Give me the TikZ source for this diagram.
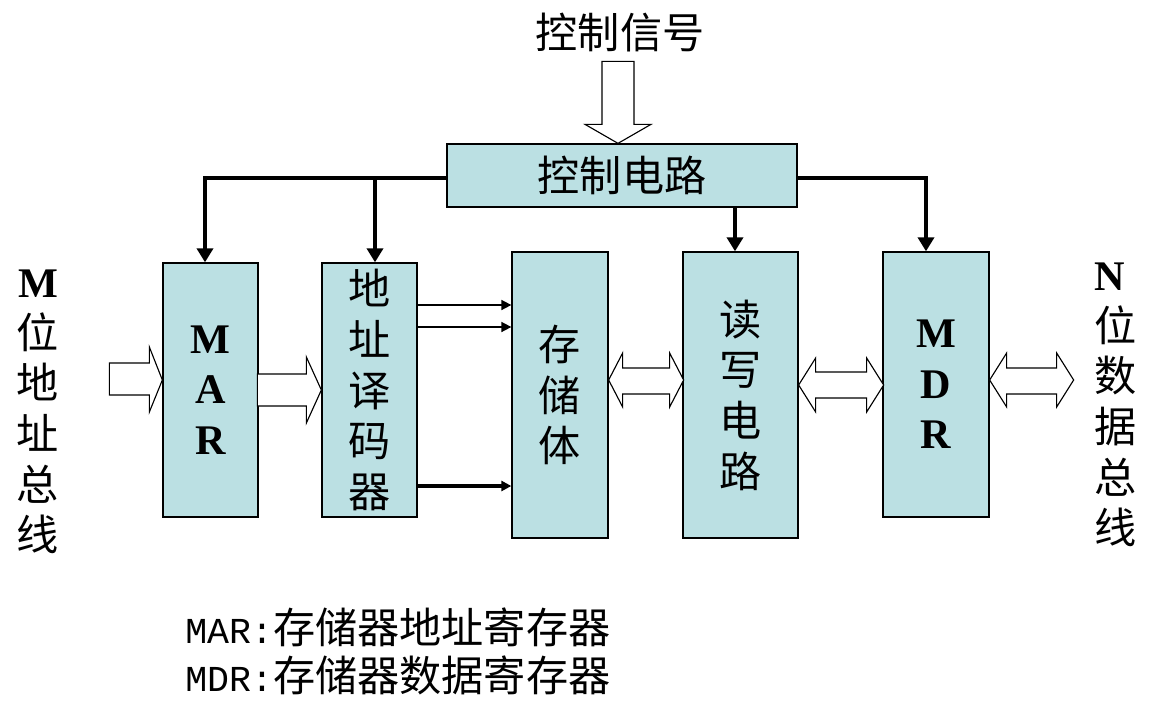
\documentclass[tikz,border=0pt]{standalone}
\usepackage{fontspec}
\setmainfont{Liberation Serif}
\newfontfamily\cjk{Noto Sans CJK SC}
\newfontfamily\legendmono{Liberation Mono}
\usetikzlibrary{calc,arrows.meta}
\definecolor{boxcyan}{RGB}{187,224,227}
\newcommand{\ltr}[1]{{\rmfamily\bfseries\fontsize{30}{36}\selectfont #1}}

\begin{document}
\begin{tikzpicture}[x=0.025cm, y=-0.025cm,
  box/.style={draw, line width=0.9pt, fill=boxcyan, inner sep=0pt, align=center, font=\cjk\fontsize{30}{36}\selectfont},
  lbl/.style={inner sep=0pt, align=center, font=\cjk\fontsize{30}{36}\selectfont},
  hollow/.style={draw, line width=0.8pt, fill=white},
  ctl/.style={line width=3pt, -{Triangle[length=0.35cm,width=0.4cm]}},
  sarr/.style={-{Triangle[length=0.25cm,width=0.25cm]}}
]
  \useasboundingbox (0,0) rectangle (1172,711);

  % Blocks
  \node[box, minimum width=8.75cm, minimum height=1.575cm] (ctrl) at (622,175.5) {控制电路};
  \node[box, minimum width=2.375cm, minimum height=6.35cm] (mar) at (210.5,390) {\ltr{M}\\\ltr{A}\\\ltr{R}};
  \node[box, minimum width=2.375cm, minimum height=6.35cm] (dec) at (369.5,390) {地\\址\\译\\码\\器};
  \node[box, minimum width=2.4cm, minimum height=7.15cm] (mem) at (560,395) {存\\储\\体};
  \node[box, minimum width=2.875cm, minimum height=7.15cm] (rw) at (740.5,395) {读\\写\\电\\路};
  \node[box, minimum width=2.65cm, minimum height=6.625cm] (mdr) at (936,384.5) {\ltr{M}\\\ltr{D}\\\ltr{R}};

  % Labels
  \node[lbl] (signal) at (620,33) {控制信号};
  \node[lbl] (addrbus) at (38,412) {\ltr{M}\\位\\地\\址\\总\\线};
  \node[lbl, align=left] (databus) at (1116,405) {\ltr{N}\\位\\数\\据\\总\\线};
  \node[lbl, anchor=west, align=left, font=\cjk\fontsize{30}{34}\selectfont] (legend) at (185,651)
    {{\legendmono\fontsize{26}{34}\selectfont MAR:}存储器地址寄存器\\{\legendmono\fontsize{26}{34}\selectfont MDR:}存储器数据寄存器};

  % Hollow bus arrows
  \draw[hollow] ($(ctrl.north)+(-4,0)$) -- ++(-33,-19) -- ++(17,0) -- ++(0,-63) -- ++(32,0) -- ++(0,63) -- ++(17,0) -- cycle;
  \draw[hollow] ($(mar.west)+(0,-10)$) -- ++(-13,-33) -- ++(0,16) -- ++(-40,0) -- ++(0,32) -- ++(40,0) -- ++(0,17) -- cycle;
  \draw[hollow] (dec.west) -- ++(-15,-33) -- ++(0,17) -- ++(-49,0) -- ++(0,32) -- ++(49,0) -- ++(0,17) -- cycle;
  \draw[hollow] ($(mem.east)+(0,-15)$) -- ++(14,-27) -- ++(0,15) -- ++(47,0) -- ++(0,-15) -- ++(14,27)
    -- ++(-14,27) -- ++(0,-13) -- ++(-47,0) -- ++(0,13) -- cycle;
  \draw[hollow] ($(rw.east)+(0,-10)$) -- ++(17,-27) -- ++(0,14) -- ++(51,0) -- ++(0,-14) -- ++(17,27)
    -- ++(-17,27) -- ++(0,-14) -- ++(-51,0) -- ++(0,14) -- cycle;
  \draw[hollow] ($(mdr.east)+(0,-4.5)$) -- ++(17,-27) -- ++(0,15) -- ++(50,0) -- ++(0,-15) -- ++(17,27)
    -- ++(-17,27) -- ++(0,-13) -- ++(-50,0) -- ++(0,13) -- cycle;

  % Control lines
  \coordinate (cl) at ($(ctrl.west)+(0,2.5)$);
  \coordinate (cr) at ($(ctrl.east)+(0,2.5)$);
  \coordinate (decin) at ($(dec.north)+(5.5,0)$);
  \coordinate (rwin) at ($(rw.north)+(-5.5,0)$);
  \draw[ctl] (cl) -| ($(mar.north)+(-5.5,0)$);
  \draw[ctl] (cl -| decin) -- (decin);
  \draw[ctl] (cr) -| ($(mdr.north)+(-10,0)$);
  \draw[ctl] (rwin |- ctrl.south) -- (rwin);

  % Decoder outputs
  \foreach \dy/\lw in {-85/1.2pt,-63/1.2pt,96/2.2pt} {
    \coordinate (d) at ($(dec.east)+(0,\dy)$);
    \draw[sarr, line width=\lw] (d) -- (d -| mem.west);
  }
\end{tikzpicture}
\end{document}
